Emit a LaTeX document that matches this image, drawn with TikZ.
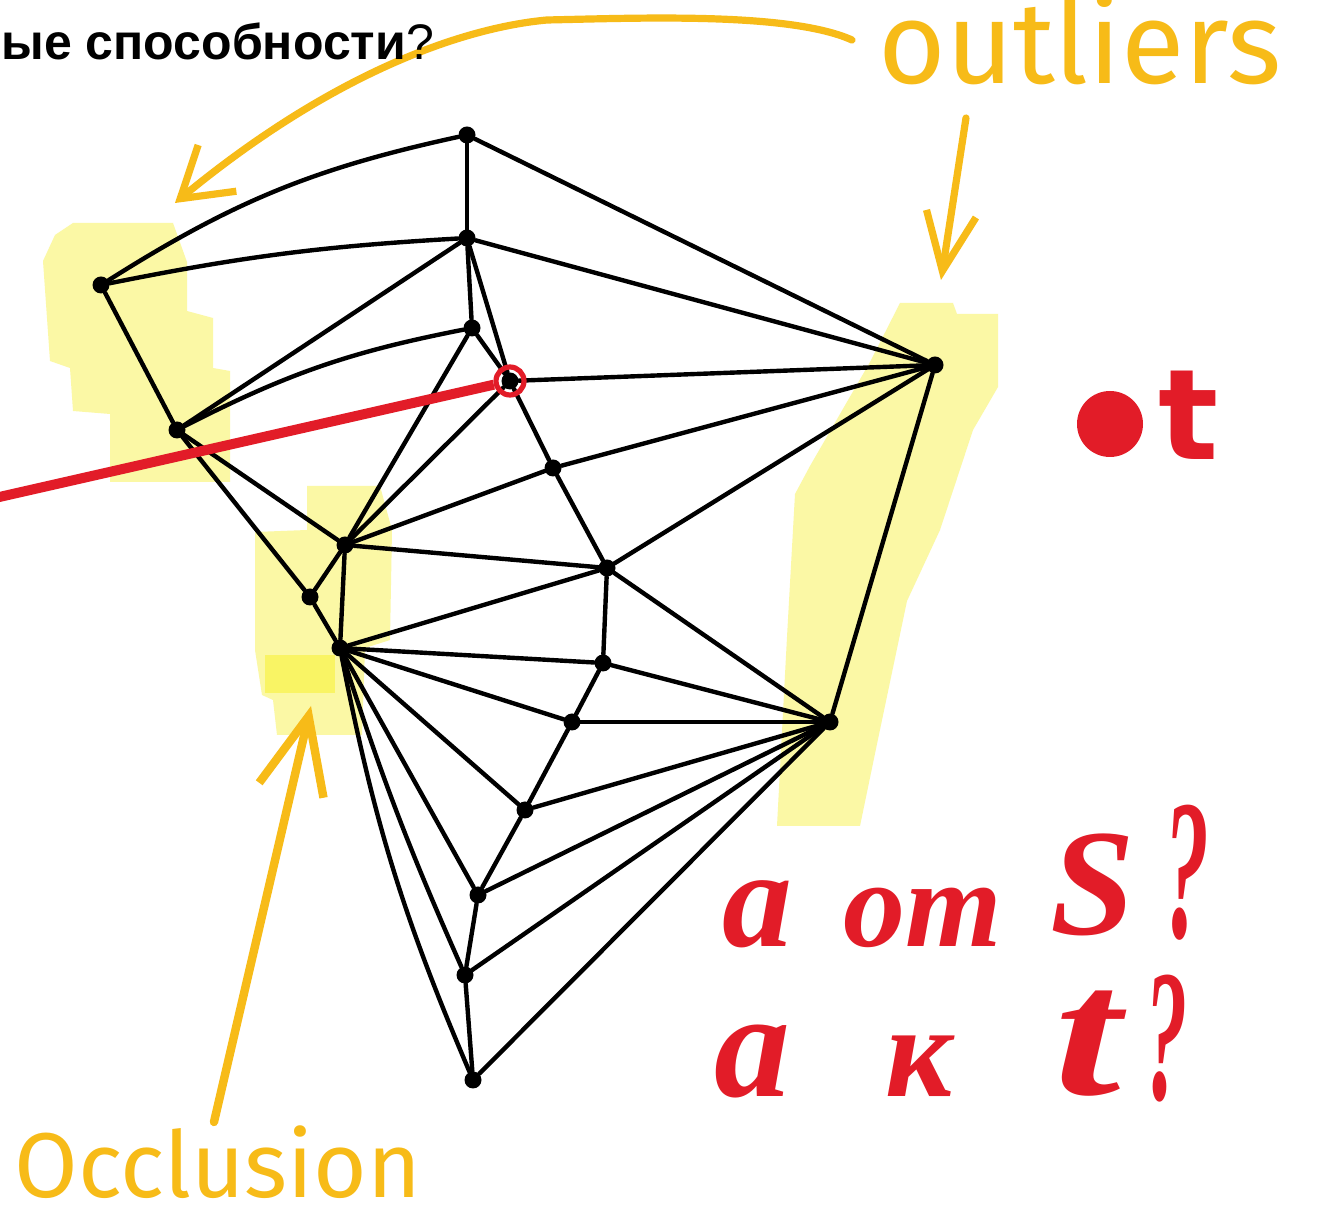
\documentclass[tikz,border=0pt]{standalone}
\usepackage{fontspec}
\setmainfont{Liberation Sans}
\newfontfamily\handfont{Fira Sans}
\newfontfamily\redfont{Liberation Serif}
\newfontfamily\dejafont{DejaVu Sans}
\usetikzlibrary{arrows.meta,positioning}
\definecolor{amber}{RGB}{247,187,24}
\definecolor{hilite}{RGB}{251,248,165}
\definecolor{hilitetwo}{RGB}{249,244,100}
\definecolor{inkred}{RGB}{226,28,40}
\newcommand{\redsz}[1]{\redfont\bfseries\itshape\fontsize{#1}{#1}\selectfont}

\begin{document}
\begin{tikzpicture}[
  x=0.5pt, y=-0.5pt,
  vx/.style={circle, fill=black, inner sep=0pt, minimum size=8.5pt},
  edge/.style={line width=2.2pt, line cap=round},
  pen/.style={amber, line width=3.6pt, line cap=round, line join=round},
  hand/.style={text=amber, inner sep=0pt, anchor=base west},
  redtxt/.style={text=inkred, inner sep=0pt, anchor=base west}
]
\fill[white] (0,0) rectangle (1319,1218);
\useasboundingbox (0,0) rectangle (1319,1218);

%--- highlights ---------------------------------------------------------------
\fill[hilite] (43,261) -- (55,235) -- (73,223) -- (173,223) -- (187,262)
  -- (187,311) -- (213,318) -- (213,368) -- (230,371) -- (230,482)
  -- (110,482) -- (110,414) -- (73,411) -- (70,368) -- (50,361) -- cycle;
\fill[hilite] (307,486) -- (380,486) -- (392,530) -- (390,640) -- (365,648)
  -- (362,735) -- (277,735) -- (273,700) -- (262,695) -- (255,650)
  -- (255,532) -- (307,530) -- cycle;
\fill[hilitetwo] (265,655) rectangle (335,693);
\fill[hilite] (900,303) -- (953,303) -- (957,314) -- (998,314) -- (998,387)
  -- (973,430) -- (940,530) -- (907,601) -- (877,744) -- (860,826)
  -- (777,826) -- (787,637) -- (795,494) -- (810,466) -- (870,362) -- cycle;

%--- mesh ---------------------------------------------------------------------
\foreach \n/\px/\py in {a/467/135, b/467/238, c/101/285, d/472/328,
  e/510/381, f/935/365, g/177/430, h/553/468, i/345/545, j/607/568,
  k/310/597, l/340/648, m/603/663, n/572/722, o/830/722, p/525/810,
  q/478/895, r/465/975, s/473/1080}
  \node[vx] (\n) at (\px,\py) {};
\foreach \s/\d in {a/b, a/f, b/g, b/d, b/e, b/f, c/g, d/e, d/i, e/f, e/i,
  e/h, f/h, f/j, f/o, g/i, g/k, h/i, h/j, i/j, i/k, i/l, k/l, j/l, j/m,
  j/o, l/m, l/n, l/p, l/q, m/n, m/o, n/o, n/p, o/p, o/q, o/r, o/s, p/q,
  q/r, r/s}
  \draw[edge] (\s) -- (\d);
\draw[edge] (c) to[bend left=10] (a);
\draw[edge] (c) to[bend left=4] (b);
\draw[edge] (g) to[bend left=8] (d);
\draw[edge] (l) to[bend right=6] (s);
\draw[edge] (l) to[bend right=3] (r);

%--- red path -----------------------------------------------------------------
\node[circle, draw=inkred, line width=2.6pt, minimum size=14pt, inner sep=0pt]
  (ering) at (e) {};
\coordinate (redL) at (-5,498);
\draw[inkred, line width=5pt] (redL) -- (ering);

%--- orange arrows ------------------------------------------------------------
\coordinate (olA) at (852,40);
\coordinate (olAmid) at (547,20);
\coordinate (olAtip) at (175,203);
\draw[pen, -{Straight Barb[length=24pt,width=30pt]}] (olA)
  .. controls (790,12) and (640,18) .. (olAmid)
  .. controls (460,28) and (330,75) .. (olAtip);
\coordinate (olB) at (966,118);
\coordinate (olBtip) at (941,280);
\draw[pen, -{Straight Barb[length=29pt,width=25pt]}] (olB) -- (olBtip);
\coordinate (ocA) at (214,1122);
\coordinate (ocTip) at (311,706);
\draw[pen, line width=4.2pt, -{Straight Barb[length=38pt,width=33pt]}]
  (ocA) -- (ocTip);

%--- labels -------------------------------------------------------------------
\node[font=\fontsize{25}{30}\selectfont, inner sep=0pt, anchor=base west]
  (ttl) at (1,60) {\textbf{ые способности}?};
\node[hand, font=\handfont\fontsize{58}{64}\selectfont] (outl) at (878,84) {outliers};
\node[hand, font=\handfont\fontsize{46}{52}\selectfont] (occl) at (14,1198) {Occlusion};

\node[circle, fill=inkred, inner sep=0pt, minimum size=33pt] (rdot) at (1110,424) {};
\node[redtxt, font=\dejafont\bfseries\fontsize{63}{63}\selectfont] (rtt) at (1158,460) {t};

\node[redtxt, font=\redsz{70}] (ra1) at (722,947) {а};
\node[redtxt, font=\redsz{62}] (rot) at (843,947) {от};
\node[redtxt, font=\redsz{76}] (rs) at (1050,935) {S};
\node[redtxt, font=\redsz{100}] (rq1) at (1164,938) {\scalebox{0.45}[1]{?}};
\node[redtxt, font=\redsz{76}] (ra2) at (714,1097) {а};
\node[redtxt, font=\redsz{66}] (rk) at (885,1097) {к};
\node[redtxt, font=\redsz{92}] (rt) at (1054,1095) {\scalebox{1.3}[1]{t}};
\node[redtxt, font=\redsz{94}] (rq2) at (1145,1100) {\scalebox{0.45}[1]{?}};
\end{tikzpicture}
\end{document}
